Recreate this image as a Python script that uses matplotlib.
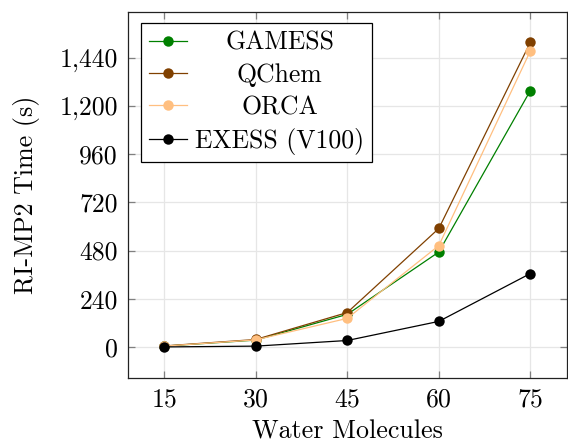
import matplotlib
matplotlib.use("Agg")
import matplotlib.pyplot as plt
from matplotlib.ticker import FixedLocator, FuncFormatter

plt.rcParams['font.family'] = ['cmr10', 'DejaVu Serif']
plt.rcParams['axes.formatter.use_mathtext'] = True
plt.rcParams['mathtext.fontset'] = 'cm'

water = [15, 30, 45, 60, 75]
gamess = [5, 35, 163, 473, 1276]
qchem = [6, 38, 172, 590, 1516]
orca = [5, 36, 143, 505, 1473]
exess = [1, 5, 33, 128, 366]
series_names = ["GAMESS", "QChem", "ORCA", "EXESS (V100)"]
colors = ["#008000", "#804000", "#FFBF80", "#000000"]
yticks = [0, 240, 480, 720, 960, 1200, 1440]
xticks = [15, 30, 45, 60, 75]

fig = plt.figure(figsize=(5.68, 4.45), dpi=100)
ax = fig.add_axes([127.5/568, 1-377.7/445, (567-127.5)/568, (377.7-11.7)/445])

for vals, name, c in zip([gamess, qchem, orca, exess], series_names, colors):
    ax.plot(water, vals, color=c, lw=0.9, marker='o', ms=7.5, label=name,
            markeredgewidth=0, zorder=3)

ax.set_xlim(9, 81)
ax.set_ylim(-152, 1668)
ax.xaxis.set_major_locator(FixedLocator(xticks))
ax.yaxis.set_major_locator(FixedLocator(yticks))
ax.yaxis.set_major_formatter(FuncFormatter(lambda v, p: f"{int(v):,}"))
ax.grid(True, color='#e6e6e6', lw=0.9, zorder=0)
ax.set_axisbelow(True)
ax.tick_params(direction='in', length=5, width=0.9, color='#808080',
               top=True, right=True, labelsize=18.5, pad=7)
for s in ax.spines.values():
    s.set_linewidth(0.9)
    s.set_color('#222222')

ax.set_xlabel("Water Molecules", fontsize=18.7, labelpad=6)
ax.set_ylabel("RI-MP2 Time (s)", fontsize=18.7, labelpad=14)

leg = ax.legend(loc='upper left', bbox_to_anchor=(13.5/439.5, 1-11.5/366), fontsize=18.5,
                frameon=True, fancybox=False, edgecolor='black', framealpha=1,
                handlelength=1.5, handletextpad=0.3, labelspacing=0.33,
                borderpad=0.3, borderaxespad=0)
leg.get_frame().set_linewidth(0.9)

fig.canvas.draw()
r = fig.canvas.get_renderer()
texts = leg.get_texts()
widths = [t.get_window_extent(r).width for t in texts]
mw = max(widths)
for t, w in zip(texts, widths):
    t.set_x((mw - w) / 2)

fig.savefig("out.png", dpi=100)
